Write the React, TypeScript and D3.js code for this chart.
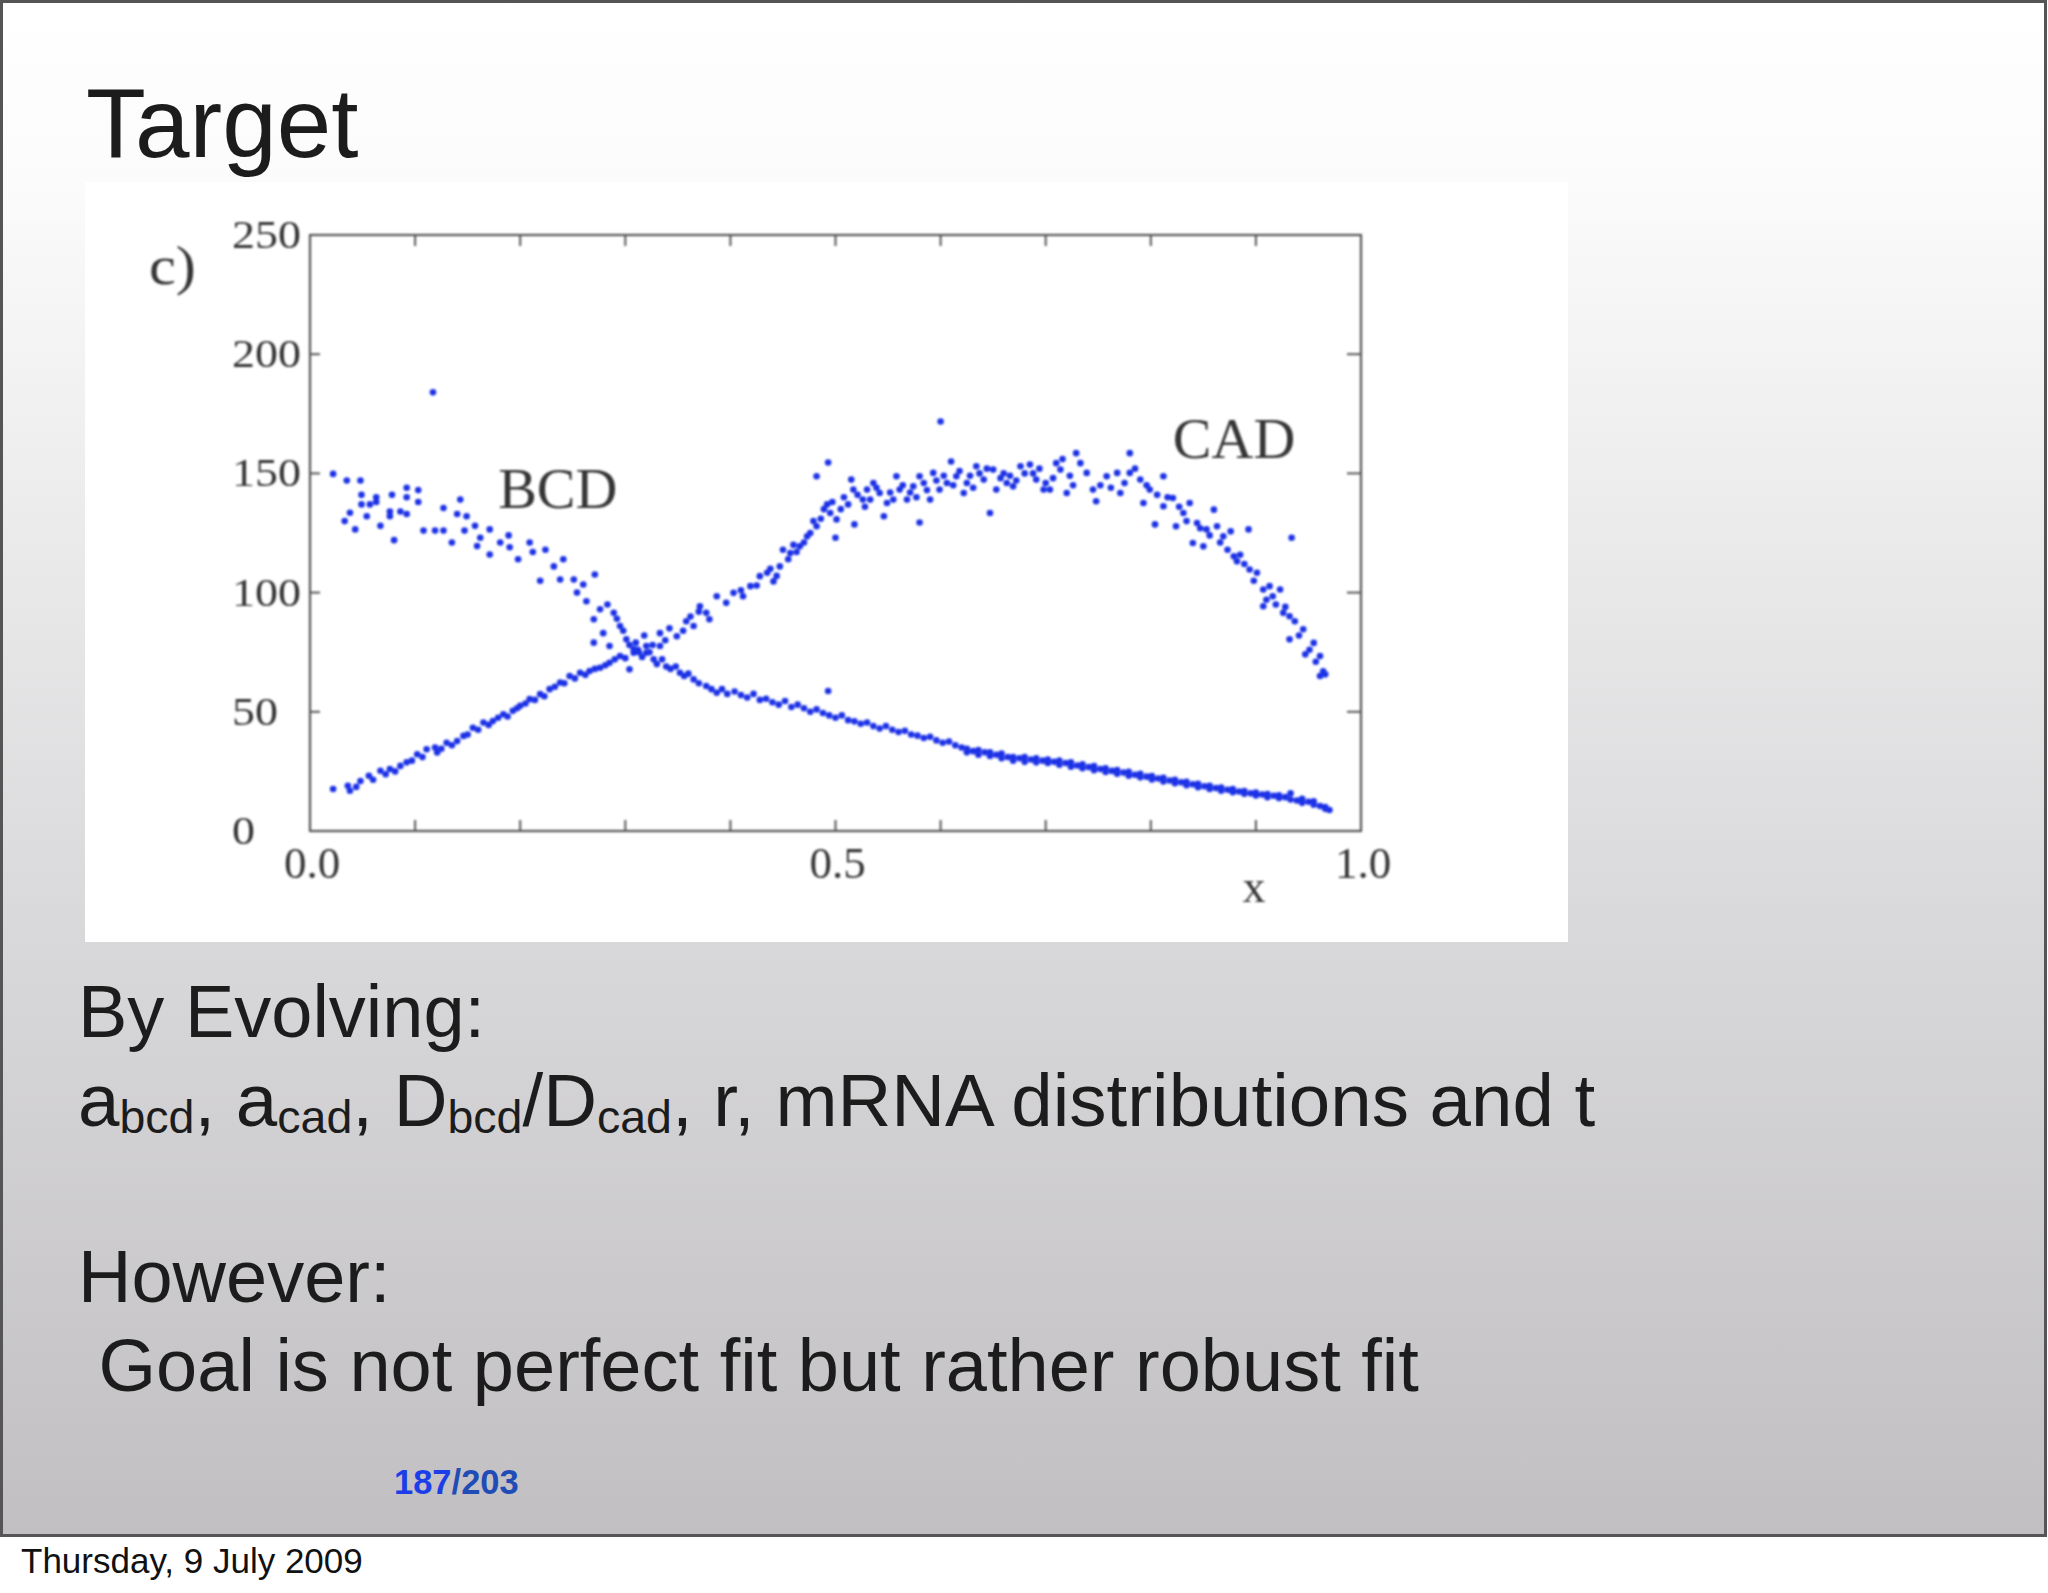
import React from "react";
import * as d3 from "d3";

// ---------- data ----------
const bcdPoints: [number, number][] = [
  [0.022,149.8],[0.035,147],[0.048,147],[0.049,141],[0.049,137],[0.063,140],[0.063,138],[0.057,137],[0.078,141],[0.076,134],
  [0.092,144],[0.103,143],[0.092,140],[0.103,138],[0.086,134],[0.092,133],[0.038,133.5],[0.033,130],[0.043,126.5],[0.054,132],
  [0.067,128],[0.080,122],[0.076,132],[0.108,126],[0.119,126],[0.127,126],[0.135,121],[0.127,135.5],[0.143,139],[0.140,133],
  [0.149,132],[0.147,126],[0.157,128],[0.171,126.5],[0.159,119.5],[0.171,116],[0.162,123],[0.181,121],[0.189,124],[0.190,119],
  [0.198,114],[0.209,121],[0.224,118],[0.212,117],[0.241,114],[0.232,111],[0.219,105],[0.238,105.5],[0.260,103.4],[0.271,107.6],
  [0.251,105.5],[0.254,100],[0.263,96.4],[0.276,93],[0.270,88.8],[0.289,91.5],[0.295,86],[0.279,83],[0.301,80.4],[0.308,74.8],
  [0.320,77.6],[0.327,72],[0.339,69],[0.352,66.4],[0.365,63.6],[0.377,60.8],[0.387,58],
  [0.283,95],[0.292,89],[0.298,84],[0.304,78],[0.312,76],[0.316,73],[0.323,75],[0.33,70],[0.335,72],[0.343,68],
  [0.348,69],[0.356,65],[0.36,66],[0.37,62],[0.382,59.5],
  [0.392,59.5],[0.397,57.5],[0.404,58.5],[0.41,57],[0.416,56],[0.422,57.5],[0.428,55],[0.434,55.5],[0.44,54],[0.446,53],
  [0.452,54.5],[0.458,52],[0.464,53],[0.47,51.5],[0.476,50],[0.482,51],[0.488,49.5],[0.493,58.7],[0.494,48.5],[0.5,47.5],
  [0.506,48.5],[0.512,46.5],[0.518,46],[0.524,45],[0.53,45.5],[0.536,44],[0.542,43],[0.548,44],[0.554,42.5],[0.56,41.5],
  [0.566,42],[0.572,40.5],[0.578,40],[0.584,39],[0.59,39.5],[0.596,38],[0.602,37],[0.608,37.5],[0.614,36],[0.62,35],
  [0.625,34.5],[0.625,33],[0.631,33.5],[0.636,32],[0.636,34],[0.642,33],[0.647,31.5],[0.647,33],[0.653,32],[0.658,30.5],
  [0.658,32.5],[0.664,31],[0.669,29.5],[0.669,31],[0.675,30.5],[0.68,29],[0.68,31],[0.686,30],[0.691,28.8],[0.691,30.5],
  [0.697,29.5],[0.702,28.5],[0.702,30],[0.708,29],[0.713,27.8],[0.713,29.5],[0.719,28.5],[0.724,27],[0.724,28.8],[0.73,27.5],
  [0.735,26.3],[0.735,28],[0.741,26.8],[0.746,25.5],[0.746,27.2],[0.752,26],[0.757,24.8],[0.757,26.3],[0.763,25.2],[0.768,24],
  [0.768,25.6],[0.774,24.5],[0.779,23.2],[0.779,24.8],[0.785,23.6],[0.79,22.5],[0.79,24],[0.796,22.8],[0.801,21.6],[0.801,23],
  [0.807,22],[0.812,20.8],[0.812,22.3],[0.818,21.2],[0.823,20],[0.823,21.5],[0.829,20.4],[0.834,19.2],[0.834,20.6],[0.84,19.6],
  [0.845,18.4],[0.845,19.8],[0.851,18.8],[0.856,17.6],[0.856,19],[0.862,18],[0.867,16.9],[0.867,18.2],[0.873,17.3],[0.878,16.3],
  [0.878,17.6],[0.884,16.6],[0.889,15.6],[0.889,16.8],[0.895,15.8],[0.9,14.9],[0.9,16.1],[0.906,15.3],[0.911,14.2],[0.911,15.5],
  [0.917,14.8],[0.922,13.8],[0.922,15],[0.928,14.2],[0.933,13.2],[0.933,15.8],[0.939,12.8],[0.944,11.8],[0.944,13.5],[0.95,12.3],
  [0.955,11],[0.955,12.5],[0.961,10.5],[0.966,9.3],[0.966,10],[0.97,8.8],
  [0.117,184]
];

const cadPoints: [number, number][] = [
  [0.022,17.6],[0.036,19],[0.038,16.9],[0.044,18.5],[0.048,21],[0.056,23.2],[0.06,21.5],[0.067,25.3],[0.072,23.8],[0.076,26],
  [0.081,25],[0.086,27.3],[0.092,28.8],[0.097,29.5],[0.102,32.2],[0.107,31],[0.111,34.3],[0.119,35],[0.121,32.9],[0.125,34.5],
  [0.13,37],[0.135,36],[0.14,37.7],[0.146,39.9],[0.15,40.5],[0.155,43.3],[0.16,42.5],[0.165,45.5],[0.17,44.5],[0.174,46.1],
  [0.179,47.5],[0.184,49],[0.188,48],[0.193,50.4],[0.197,51.5],[0.2,52.5],[0.205,53.5],[0.209,55.3],[0.214,55],[0.219,57.4],
  [0.223,56.5],[0.228,59.5],[0.233,60.5],[0.238,62.3],[0.242,62],[0.247,65],[0.252,64],[0.257,66.4],[0.262,65.5],[0.266,67.1],
  [0.271,68],[0.276,68.5],[0.281,69.5],[0.285,70.6],[0.29,72],[0.295,73.4],[0.3,72.5],[0.304,67.8],[0.308,76.2],[0.313,75],
  [0.32,74.8],[0.326,78],[0.333,77.6],
  [0.270,79],[0.285,77.6],[0.333,83],[0.349,81.7],[0.365,86],[0.38,88.8],[0.31,79],[0.318,82],[0.338,80],[0.342,85],
  [0.355,84],[0.358,88],[0.362,90],[0.37,92],
  [0.371,94.3],[0.377,91.5],[0.387,98.5],[0.396,95.7],[0.403,99.9],[0.412,98.5],[0.419,102.7],[0.428,106.9],[0.435,108.3],[0.441,104.7],
  [0.447,111],[0.45,118],[0.457,116.6],[0.466,119.4],[0.473,123.6],[0.482,127.8],[0.492,137],[0.495,133.4],[0.5,123],[0.482,148.8],
  [0.493,154.6],[0.501,130.7],[0.515,147.4],[0.517,143.2],[0.518,128.6],[0.526,139],[0.53,143.2],[0.536,146],[0.542,141.8],[0.546,132],
  [0.549,137.6],[0.558,148.8],[0.561,143.2],[0.568,139],[0.574,144.6],[0.58,148.8],[0.58,129.4],[0.59,139],[0.593,150.2],[0.599,143.2],
  [0.6,171.8],[0.606,146],[0.61,155],[0.615,148.8],[0.622,141.8],[0.625,146],[0.634,153],[0.641,147.4],[0.647,133.4],[0.65,151.6],
  [0.653,143.2],[0.663,146],[0.669,144.6],[0.676,153],[0.685,153.7],[0.691,147.4],[0.698,143.2],[0.704,143.2],[0.71,154.3],[0.714,151.6],
  [0.72,141.8],[0.729,158.5],[0.733,154.3],[0.739,150.2],[0.745,143.2],
  [0.41,101],[0.425,103],[0.438,110],[0.444,107],
  [0.455,114],[0.46,120],[0.463,117],[0.47,121],[0.476,125],[0.479,130],[0.486,131],[0.489,135],[0.497,138],[0.505,135],
  [0.508,140],[0.512,137],[0.521,141],[0.528,136],[0.533,139],[0.539,144],[0.552,142],[0.555,139],[0.564,145],[0.571,142],
  [0.577,140],[0.584,146],[0.587,143],[0.596,147],[0.603,149],[0.612,145],[0.618,151],[0.628,149],[0.631,144],[0.637,150],
  [0.644,152],[0.657,148],[0.66,150],[0.666,149],[0.672,147],[0.68,150],[0.688,150],[0.694,152],[0.7,146],[0.707,148],
  [0.716,156],[0.723,149],[0.726,145],
  [0.748,138.3],[0.758,148.8],[0.768,150.2],[0.771,141.8],[0.78,158.5],[0.78,150.2],[0.79,147.4],[0.793,137.6],[0.799,143.2],[0.804,128.6],
  [0.812,148.8],[0.812,136.2],[0.821,139.7],[0.824,127.8],[0.831,133.4],[0.837,137.6],[0.84,120.8],[0.844,129.2],[0.85,119.4],[0.853,126.5],
  [0.86,134.8],[0.863,127.8],[0.869,123.6],[0.876,125.7],[0.879,115.2],[0.882,113.1],[0.885,115.9],[0.893,126.5],[0.894,109.7],[0.901,108.3],
  [0.907,101.3],[0.907,94.3],[0.913,102.7],[0.916,98.5],[0.923,101.3],[0.926,91.5],[0.932,90.1],[0.932,80.4],[0.934,123],[0.945,84.6],
  [0.947,74.1],[0.955,78.9],[0.961,73.4],[0.961,65],[0.966,65.7],
  [0.752,145],[0.762,144],[0.775,146],[0.785,152],[0.796,145],[0.806,141],[0.816,140],[0.827,136],[0.834,130],[0.847,127],
  [0.856,124],[0.866,121],[0.873,118],[0.889,112],[0.898,105],[0.91,97],[0.919,95],[0.928,94],[0.937,88],[0.941,82],
  [0.951,76],[0.957,71],[0.964,67]
];

const xMinorTicks = [0.1, 0.2, 0.3, 0.4, 0.5, 0.6, 0.7, 0.8, 0.9];
const xTickLabels = [0.0, 0.5, 1.0];
const yMinorTicks = [50, 100, 150, 200];
const yTickLabels = [0, 50, 100, 150, 200, 250];

const seriesLabels = [
  { name: "BCD", x: 0.179, y: 135.5 },
  { name: "CAD", x: 0.821, y: 156.5 },
];

// ---------- layout ----------
const W = 2048;
const H = 1593;
const plot = { left: 310, right: 1361, top: 235, bottom: 831 };

export default function App() {
  const xScale = d3.scaleLinear().domain([0, 1]).range([plot.left, plot.right]);
  const yScale = d3.scaleLinear().domain([0, 250]).range([plot.bottom, plot.top]);

  const dotColor = "#1f33e6";
  const axisColor = "#555";
  const chartText = "#363636";
  const serif = "'Liberation Serif', 'Times New Roman', serif";
  const sans = "'Liberation Sans', Arial, Helvetica, sans-serif";
  const bodyColor = "#1c1c1c";
  const subShift = 7;

  return (
    <svg
      width={W}
      height={H}
      viewBox={`0 0 ${W} ${H}`}
      style={{ position: "absolute", left: 0, top: 0, display: "block" }}
    >
      <defs>
        <linearGradient id="bg" x1="0" y1="0" x2="0" y2="1">
          <stop offset="0" stopColor="#ffffff" />
          <stop offset="0.12" stopColor="#fbfbfb" />
          <stop offset="0.6" stopColor="#d9d8da" />
          <stop offset="1" stopColor="#c1bfc2" />
        </linearGradient>
        <filter id="soft" x="-5%" y="-5%" width="110%" height="110%">
          <feGaussianBlur stdDeviation="0.8" />
        </filter>
      </defs>

      <rect x={0} y={0} width={W} height={H} fill="#ffffff" />
      <rect x={1.5} y={1.5} width={2044} height={1534} fill="url(#bg)" stroke="#555" strokeWidth={3} />

      {/* Title */}
      <text x={86} y={157} fontFamily={sans} fontSize={98} fill={bodyColor}>Target</text>

      {/* Chart panel */}
      <rect x={85} y={182} width={1483} height={760} fill="#ffffff" />

      <g filter="url(#soft)">
        <rect
          x={plot.left}
          y={plot.top}
          width={plot.right - plot.left}
          height={plot.bottom - plot.top}
          fill="none"
          stroke={axisColor}
          strokeWidth={2.2}
        />
        {xMinorTicks.map((t) => (
          <g key={"xt" + t}>
            <line x1={xScale(t)} x2={xScale(t)} y1={plot.bottom} y2={plot.bottom - 11} stroke={axisColor} strokeWidth={2} />
            <line x1={xScale(t)} x2={xScale(t)} y1={plot.top} y2={plot.top + 11} stroke={axisColor} strokeWidth={2} />
          </g>
        ))}
        {yMinorTicks.map((t) => (
          <g key={"yt" + t}>
            <line x1={plot.left} x2={plot.left + 10} y1={yScale(t)} y2={yScale(t)} stroke={axisColor} strokeWidth={2} />
            <line x1={plot.right} x2={plot.right - 14} y1={yScale(t)} y2={yScale(t)} stroke={axisColor} strokeWidth={2} />
          </g>
        ))}
        {yTickLabels.map((t) => (
          <text
            key={"yl" + t}
            transform={`translate(232,${yScale(t) + 13}) scale(1.15,1)`}
            fontFamily={serif}
            fontSize={40}
            fill={chartText}
          >
            {t}
          </text>
        ))}
        {xTickLabels.map((t) => (
          <text
            key={"xl" + t}
            x={xScale(t) + 2}
            y={878}
            textAnchor="middle"
            fontFamily={serif}
            fontSize={45}
            fill={chartText}
          >
            {t.toFixed(1)}
          </text>
        ))}
        <text x={1254} y={902} textAnchor="middle" fontFamily={serif} fontSize={46} fill={chartText}>x</text>
        <text transform="translate(149,284) scale(1.12,1)" fontFamily={serif} fontSize={54} fill={chartText}>c)</text>
        {seriesLabels.map((s) => (
          <text key={s.name} x={xScale(s.x)} y={yScale(s.y)} fontFamily={serif} fontSize={58} fill={chartText}>
            {s.name}
          </text>
        ))}

        {bcdPoints.map((p, i) => (
          <circle key={"b" + i} cx={xScale(p[0])} cy={yScale(p[1])} r={3.3} fill={dotColor} />
        ))}
        {cadPoints.map((p, i) => (
          <circle key={"c" + i} cx={xScale(p[0])} cy={yScale(p[1])} r={3.3} fill={dotColor} />
        ))}
      </g>

      {/* Body text */}
      <text x={78} y={1037} fontFamily={sans} fontSize={74} fill={bodyColor}>By Evolving:</text>
      <text x={78} y={1126} fontFamily={sans} fontSize={74.5} fill={bodyColor}>
        <tspan>a</tspan>
        <tspan fontSize={46.5} dy={subShift}>bcd</tspan>
        <tspan dy={-subShift}>, a</tspan>
        <tspan fontSize={46.5} dy={subShift}>cad</tspan>
        <tspan dy={-subShift}>, D</tspan>
        <tspan fontSize={46.5} dy={subShift}>bcd</tspan>
        <tspan dy={-subShift}>/D</tspan>
        <tspan fontSize={46.5} dy={subShift}>cad</tspan>
        <tspan dy={-subShift}>, r, mRNA distributions and t</tspan>
      </text>
      <text x={78} y={1302} fontFamily={sans} fontSize={74} fill={bodyColor}>However:</text>
      <text x={78} y={1391} fontFamily={sans} fontSize={74} fill={bodyColor} style={{ whiteSpace: "pre" }}>
        {" Goal is not perfect fit but rather robust fit"}
      </text>

      {/* Page number */}
      <text x={394} y={1494} fontFamily={sans} fontSize={34.5} fontWeight="bold">
        <tspan fill="#1c3ee8">187</tspan>
        <tspan fill="#1f4cb6">/203</tspan>
      </text>

      {/* Footer date */}
      <text x={21} y={1573} fontFamily={sans} fontSize={35} fill="#111">Thursday, 9 July 2009</text>
    </svg>
  );
}
